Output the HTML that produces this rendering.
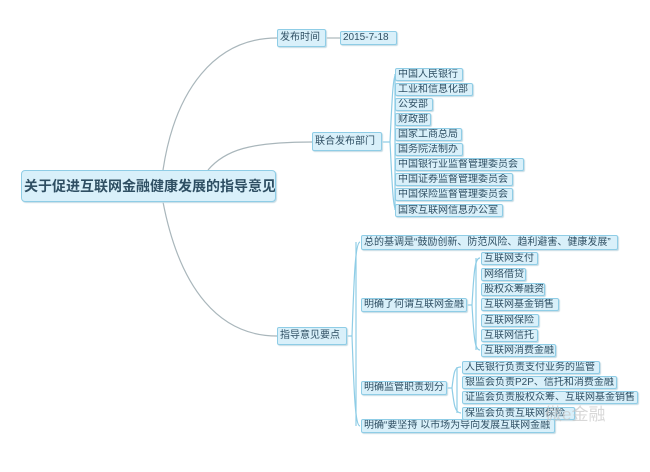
<!DOCTYPE html>
<html><head><meta charset="utf-8"><style>
body{margin:0;width:650px;height:472px;background:#fff;overflow:hidden;position:relative;font-family:"Liberation Sans","Noto Sans CJK SC",sans-serif}
.n{position:absolute;box-sizing:border-box;background:#d9f0fa;border:1px solid #8fcde6;border-radius:2px;color:#2f4f63;font-size:10px;line-height:12px;padding:0 2px;white-space:nowrap;overflow:hidden;box-shadow:1px 1px 1px #c5dbe4}
svg{position:absolute;left:0;top:0}
</style></head><body>
<svg width="650" height="472">
<g fill="none" stroke="#a9b6bb" stroke-width="1.2">
<path d="M163 170 C175 90 215 38 277 38"/>
<path d="M208 170 C225 150 250 142 312 142"/>
<path d="M163 202 C180 290 220 336 277 336"/>
<path d="M326 38 L340 38"/>
</g>
<g fill="none" stroke="#8fcde6" stroke-width="1.2">
<path d="M382 142 L390 142 M390 142 C392 100 393 75 396 74 M390 142 C392 180 393 210 396 210"/>
<path d="M395 74 L395 210"/>
<path d="M347 336 L352 336 M352 336 C354 280 355 243 360 242 M352 336 C354 390 355 426 360 426"/>
<path d="M356 242 L356 426"/>
<path d="M467 305 L472 305 M472 305 C474 270 475 258 480 258 M472 305 C474 340 475 350 480 350"/>
<path d="M476 258 L476 350"/>
<path d="M447 388 L452 388 M452 388 C454 370 455 367 461 367 M452 388 C454 405 455 413 461 413"/>
<path d="M457 367 L457 413"/>
</g>
</svg>
<div class="n" style="left:21px;top:170px;width:255px;height:32px;line-height:30px;font-size:14px;text-align:center;font-weight:bold;border-radius:4px">关于促进互联网金融健康发展的指导意见</div>
<div class="n" style="left:277px;top:29px;width:49px;height:18px;line-height:16px">发布时间</div>
<div class="n" style="left:340px;top:31px;width:57px;height:14px">2015-7-18</div>
<div class="n" style="left:312px;top:132px;width:70px;height:19px;line-height:17px">联合发布部门</div>
<div class="n" style="left:395px;top:68px;width:68px;height:13px">中国人民银行</div>
<div class="n" style="left:395px;top:83px;width:78px;height:13px">工业和信息化部</div>
<div class="n" style="left:395px;top:98px;width:38px;height:13px">公安部</div>
<div class="n" style="left:395px;top:113px;width:36px;height:13px">财政部</div>
<div class="n" style="left:395px;top:128px;width:67px;height:13px">国家工商总局</div>
<div class="n" style="left:395px;top:143px;width:68px;height:13px">国务院法制办</div>
<div class="n" style="left:395px;top:158px;width:129px;height:13px">中国银行业监督管理委员会</div>
<div class="n" style="left:395px;top:173px;width:118px;height:13px">中国证券监督管理委员会</div>
<div class="n" style="left:395px;top:188px;width:118px;height:13px">中国保险监督管理委员会</div>
<div class="n" style="left:395px;top:204px;width:108px;height:13px">国家互联网信息办公室</div>
<div class="n" style="left:277px;top:327px;width:70px;height:18px;line-height:16px">指导意见要点</div>
<div class="n" style="left:361px;top:235px;width:257px;height:15px;line-height:13px">总的基调是“鼓励创新、防范风险、趋利避害、健康发展”</div>
<div class="n" style="left:361px;top:298px;width:106px;height:14px">明确了何谓互联网金融</div>
<div class="n" style="left:481px;top:252px;width:57px;height:13px">互联网支付</div>
<div class="n" style="left:481px;top:268px;width:45px;height:13px">网络借贷</div>
<div class="n" style="left:481px;top:283px;width:64px;height:13px">股权众筹融资</div>
<div class="n" style="left:481px;top:298px;width:78px;height:13px">互联网基金销售</div>
<div class="n" style="left:481px;top:314px;width:58px;height:13px">互联网保险</div>
<div class="n" style="left:481px;top:329px;width:57px;height:13px">互联网信托</div>
<div class="n" style="left:481px;top:344px;width:75px;height:13px">互联网消费金融</div>
<div class="n" style="left:361px;top:381px;width:86px;height:14px">明确监管职责划分</div>
<div class="n" style="left:462px;top:361px;width:138px;height:13px">人民银行负责支付业务的监管</div>
<div class="n" style="left:462px;top:376px;width:155px;height:13px">银监会负责P2P、信托和消费金融</div>
<div class="n" style="left:462px;top:391px;width:176px;height:13px">证监会负责股权众筹、互联网基金销售</div>
<div class="n" style="left:462px;top:407px;width:113px;height:13px">保监会负责互联网保险</div>
<div class="n" style="left:361px;top:419px;width:194px;height:14px">明确“要坚持 以市场为导向发展互联网金融</div>
<div style="position:absolute;left:545px;top:400px;font-size:17px;color:rgba(200,200,200,.7);font-family:'Liberation Sans','Noto Sans CJK SC',sans-serif">微e金融</div>
</body></html>
